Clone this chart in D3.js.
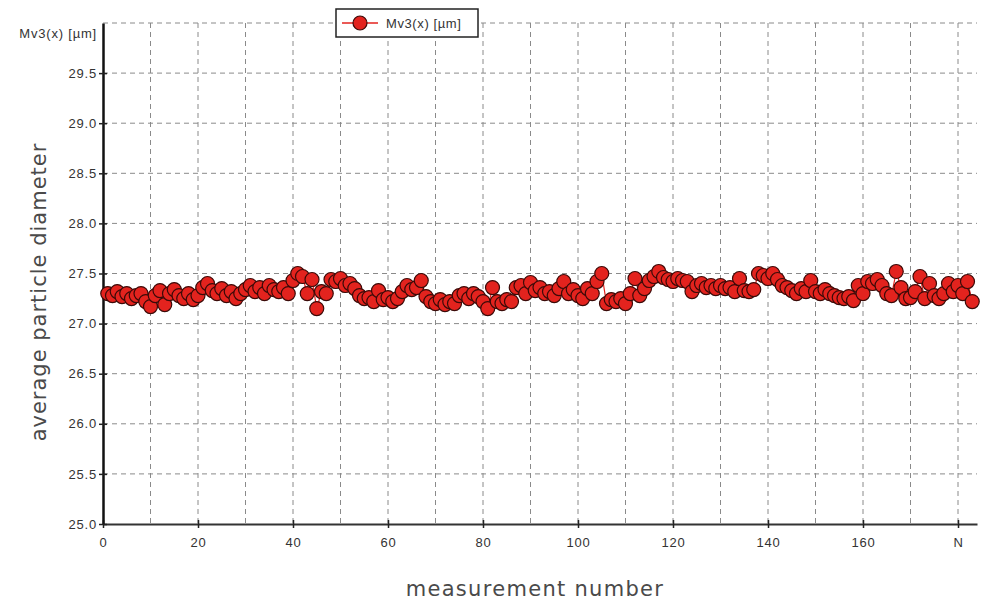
<!DOCTYPE html>
<html>
<head>
<meta charset="utf-8">
<script src="https://cdn.jsdelivr.net/npm/d3@7"></script>
<style>
  body { margin: 0; background: #fff; }
  .tick text { font-family: "Liberation Sans", Arial, sans-serif; font-size: 13px; letter-spacing: 0.8px; fill: #333; }
</style>
</head>
<body>
<div class="chart"></div>
<script>
// chart size
var width = 981;
var height = 604;
var margin = {top: 23, right: 4, bottom: 80, left: 103};

// data
var seriesName = "Mv3(x) [µm]";
var yLabel = "average particle diameter";
var xLabel = "measurement number";
var xTicks = [0, 20, 40, 60, 80, 100, 120, 140, 160, 180];
var xTickLabels = ["0", "20", "40", "60", "80", "100", "120", "140", "160", "N"];
var yTicks = [25.0, 25.5, 26.0, 26.5, 27.0, 27.5, 28.0, 28.5, 29.0, 29.5];
var values = [
  27.30, 27.28, 27.32, 27.27, 27.30, 27.25, 27.28, 27.30, 27.22, 27.17,
  27.28, 27.33, 27.19, 27.30, 27.34, 27.28, 27.25, 27.30, 27.24, 27.28,
  27.36, 27.40, 27.33, 27.30, 27.35, 27.28, 27.32, 27.25, 27.30, 27.34,
  27.38, 27.32, 27.36, 27.30, 27.38, 27.34, 27.32, 27.36, 27.30, 27.43,
  27.50, 27.47, 27.30, 27.44, 27.15, 27.32, 27.30, 27.44, 27.42, 27.45,
  27.38, 27.40, 27.35, 27.28, 27.25, 27.26, 27.22, 27.33, 27.24, 27.26,
  27.22, 27.25, 27.32, 27.38, 27.34, 27.36, 27.43, 27.27, 27.22, 27.20,
  27.24, 27.19, 27.22, 27.20, 27.28, 27.30, 27.25, 27.30, 27.27, 27.22,
  27.15, 27.36, 27.22, 27.20, 27.24, 27.22, 27.36, 27.38, 27.30, 27.41,
  27.33, 27.36, 27.30, 27.32, 27.28, 27.35, 27.42, 27.30, 27.34, 27.28,
  27.25, 27.35, 27.30, 27.42, 27.50, 27.20, 27.24, 27.22, 27.25, 27.20,
  27.30, 27.45, 27.28, 27.35, 27.43, 27.47, 27.52, 27.46, 27.44, 27.42,
  27.45, 27.43, 27.42, 27.32, 27.38, 27.40, 27.36, 27.38, 27.35, 27.38,
  27.35, 27.36, 27.32, 27.45, 27.33, 27.32, 27.34, 27.50, 27.48, 27.45,
  27.50, 27.44, 27.38, 27.36, 27.33, 27.30, 27.35, 27.32, 27.43, 27.32,
  27.30, 27.34, 27.30, 27.28, 27.26, 27.25, 27.27, 27.23, 27.38, 27.30,
  27.42, 27.40, 27.44, 27.38, 27.30, 27.28, 27.52, 27.36, 27.25, 27.26,
  27.32, 27.47, 27.25, 27.40, 27.28, 27.25, 27.30, 27.40, 27.32, 27.38,
  27.30, 27.42, 27.22
];

var redFill = "#e3231e";
var markerStroke = "#3b0a08";
var gridColor = "#8a8a8a";

var svg = d3.select(".chart")
            .append("svg")
            .attr("width", width)
            .attr("height", height);

var xScale = d3.scaleLinear()
               .domain([0, 184])
               .range([margin.left, width - margin.right]);
var yScale = d3.scaleLinear()
               .domain([25, 30])
               .range([height - margin.bottom, margin.top]);

// grid lines
var grid = svg.append("g").attr("id", "grid");
grid.selectAll(".vgrid")
    .data(d3.range(10, 190, 10))
    .enter()
    .append("line")
    .attr("x1", d => xScale(d)).attr("x2", d => xScale(d))
    .attr("y1", yScale(30)).attr("y2", yScale(25))
    .attr("stroke", gridColor)
    .attr("stroke-dasharray", "5,4");
grid.selectAll(".hgrid")
    .data(yTicks.slice(1).concat([30]))
    .enter()
    .append("line")
    .attr("x1", xScale(0)).attr("x2", xScale(184))
    .attr("y1", d => yScale(d)).attr("y2", d => yScale(d))
    .attr("stroke", gridColor)
    .attr("stroke-dasharray", "5,4");

// axes
var xAxis = d3.axisBottom(xScale)
              .tickValues(xTicks)
              .tickFormat((d, i) => xTickLabels[i])
              .tickSizeInner(4)
              .tickSizeOuter(0)
              .tickPadding(10);
var gx = svg.append("g")
   .attr("id", "x-axis")
   .attr("transform", "translate(0," + yScale(25) + ")")
   .call(xAxis);
gx.select(".domain").attr("stroke", "#333").attr("stroke-width", 2);
gx.selectAll(".tick line").attr("y1", -4).attr("stroke", "#222").attr("stroke-width", 1.5);

var yAxis = d3.axisLeft(yScale)
              .tickValues(yTicks)
              .tickFormat(d3.format(".1f"))
              .tickSizeInner(4)
              .tickSizeOuter(0)
              .tickPadding(2);
var gy = svg.append("g")
   .attr("id", "y-axis")
   .attr("transform", "translate(" + xScale(0) + ",0)")
   .call(yAxis);
gy.select(".domain").attr("stroke", "#111").attr("stroke-width", 2.5);
gy.selectAll(".tick line").attr("x2", 4).attr("x1", -4).attr("stroke", "#222").attr("stroke-width", 1.5);

// unit label at top of y axis
svg.append("text")
   .attr("x", xScale(0) - 6)
   .attr("y", margin.top + 15)
   .attr("text-anchor", "end")
   .style("font-family", "'Liberation Sans', Arial, sans-serif")
   .style("font-size", "13px")
   .style("letter-spacing", "0.8px")
   .attr("fill", "#333")
   .text(seriesName);

// axis titles
svg.append("text")
   .attr("transform", "translate(" + 46 + "," + 292 + ") rotate(-90)")
   .attr("text-anchor", "middle")
   .style("font-family", "'DejaVu Sans', sans-serif")
   .style("font-size", "21px")
   .style("letter-spacing", "1px")
   .attr("fill", "#4a4a4a")
   .text(yLabel);

svg.append("text")
   .attr("x", 535)
   .attr("y", 596)
   .attr("text-anchor", "middle")
   .style("font-family", "'DejaVu Sans', sans-serif")
   .style("font-size", "21px")
   .style("letter-spacing", "1.3px")
   .attr("fill", "#4a4a4a")
   .text(xLabel);

// series
var line = d3.line()
             .x((d, i) => xScale(i + 1))
             .y(d => yScale(d));
svg.append("path")
   .datum(values)
   .attr("d", line)
   .attr("fill", "none")
   .attr("stroke", redFill)
   .attr("stroke-width", 1.2);

svg.append("g")
   .selectAll("circle")
   .data(values)
   .enter()
   .append("circle")
   .attr("cx", (d, i) => xScale(i + 1))
   .attr("cy", d => yScale(d))
   .attr("r", 7)
   .attr("fill", redFill)
   .attr("stroke", markerStroke)
   .attr("stroke-width", 1.2);

// legend
var legend = svg.append("g")
                .attr("id", "legend")
                .attr("transform", "translate(336,9)");
legend.append("rect")
      .attr("width", 142)
      .attr("height", 28)
      .attr("fill", "#fff")
      .attr("stroke", "#222")
      .attr("stroke-width", 1.5);
legend.append("line")
      .attr("x1", 6).attr("x2", 42)
      .attr("y1", 14).attr("y2", 14)
      .attr("stroke", redFill)
      .attr("stroke-width", 1.5);
legend.append("circle")
      .attr("cx", 24).attr("cy", 14).attr("r", 7)
      .attr("fill", redFill)
      .attr("stroke", markerStroke)
      .attr("stroke-width", 1.2);
legend.append("text")
      .attr("x", 50).attr("y", 19)
      .style("font-family", "'Liberation Sans', Arial, sans-serif")
      .style("font-size", "13px")
      .style("letter-spacing", "0.6px")
      .attr("fill", "#333")
      .text(seriesName);
</script>
</body>
</html>
